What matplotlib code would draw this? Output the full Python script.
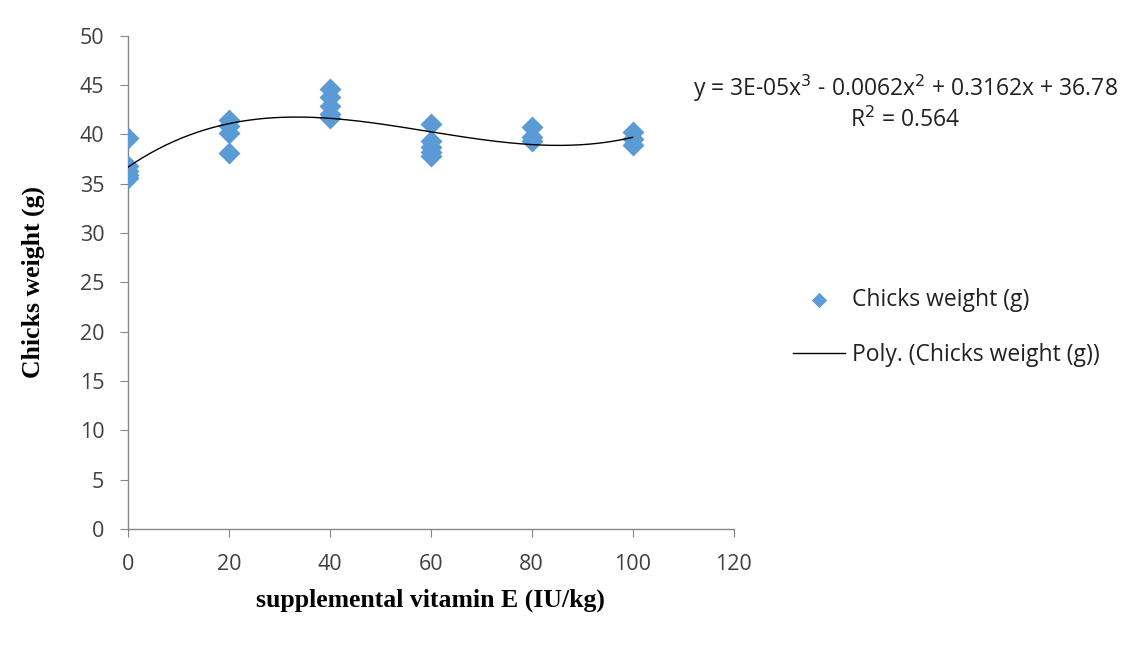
import matplotlib.pyplot as plt
import numpy as np

# vitamin E level (IU/kg) and chick weight (g) per bird
vitamin_e = [0, 0, 0, 0, 0,
             20, 20, 20, 20,
             40, 40, 40, 40, 40,
             60, 60, 60, 60, 60,
             80, 80, 80,
             100, 100, 100]
weight = [39.6, 36.8, 36.3, 35.9, 35.6,
          41.5, 40.8, 40.1, 38.1,
          44.6, 43.8, 42.9, 42.1, 41.7,
          41.0, 39.3, 38.7, 38.2, 37.8,
          40.7, 39.7, 39.3,
          40.2, 39.5, 38.9]

x_ticks = [0, 20, 40, 60, 80, 100, 120]
y_ticks = [0, 5, 10, 15, 20, 25, 30, 35, 40, 45, 50]

marker_color = '#5B9BD5'
tick_font = 'Open Sans'
label_font = 'Liberation Serif'

fig = plt.figure(figsize=(11.32, 6.49), dpi=100)
ax = fig.add_axes([0.113, 0.185, 0.535, 0.76])

ax.scatter(vitamin_e, weight, marker='D', s=125, color=marker_color,
           linewidths=0, zorder=3, label='Chicks weight (g)')

# third order trend line over the observed range
coef = np.polyfit(vitamin_e, weight, 3)
xs = np.linspace(0, 100, 200)
ax.plot(xs, np.polyval(coef, xs), color='black', linewidth=1, zorder=4,
        label='Poly. (Chicks weight (g))')

ax.set_xlim(0, 120)
ax.set_ylim(0, 50)
ax.set_xticks(x_ticks)
ax.set_yticks(y_ticks)

for side in ['top', 'right']:
    ax.spines[side].set_visible(False)
for side in ['left', 'bottom']:
    ax.spines[side].set_color('#868686')
    ax.spines[side].set_linewidth(1)

ax.tick_params(axis='both', direction='out', length=6, color='#868686',
               labelsize=15.5, labelcolor='#404040')
ax.tick_params(axis='x', pad=12)
ax.tick_params(axis='y', pad=11)
for lab in ax.get_xticklabels() + ax.get_yticklabels():
    lab.set_family(tick_font)

ax.set_xlabel('supplemental vitamin E (IU/kg)', fontsize=18.5, fontweight='bold',
              family=label_font, labelpad=10)
ax.set_ylabel('Chicks weight (g)', fontsize=18.5, fontweight='bold',
              family=label_font, labelpad=25)

fig.text(0.7995, 0.864, 'y = 3E-05x$^3$ - 0.0062x$^2$ + 0.3162x + 36.78',
         ha='center', va='center', fontsize=16.5, family=tick_font, color='#222222')
fig.text(0.7995, 0.815, 'R$^2$ = 0.564', ha='center', va='center',
         fontsize=16.5, family=tick_font, color='#222222')

leg = fig.legend(loc='center left', bbox_to_anchor=(0.682, 0.495), frameon=False,
                 prop={'family': tick_font, 'size': 16.5}, labelspacing=1.37,
                 handlelength=2.27, handletextpad=0.3, markerscale=0.7)
for t in leg.get_texts():
    t.set_color('#222222')

fig.savefig('out.png', dpi=100)
